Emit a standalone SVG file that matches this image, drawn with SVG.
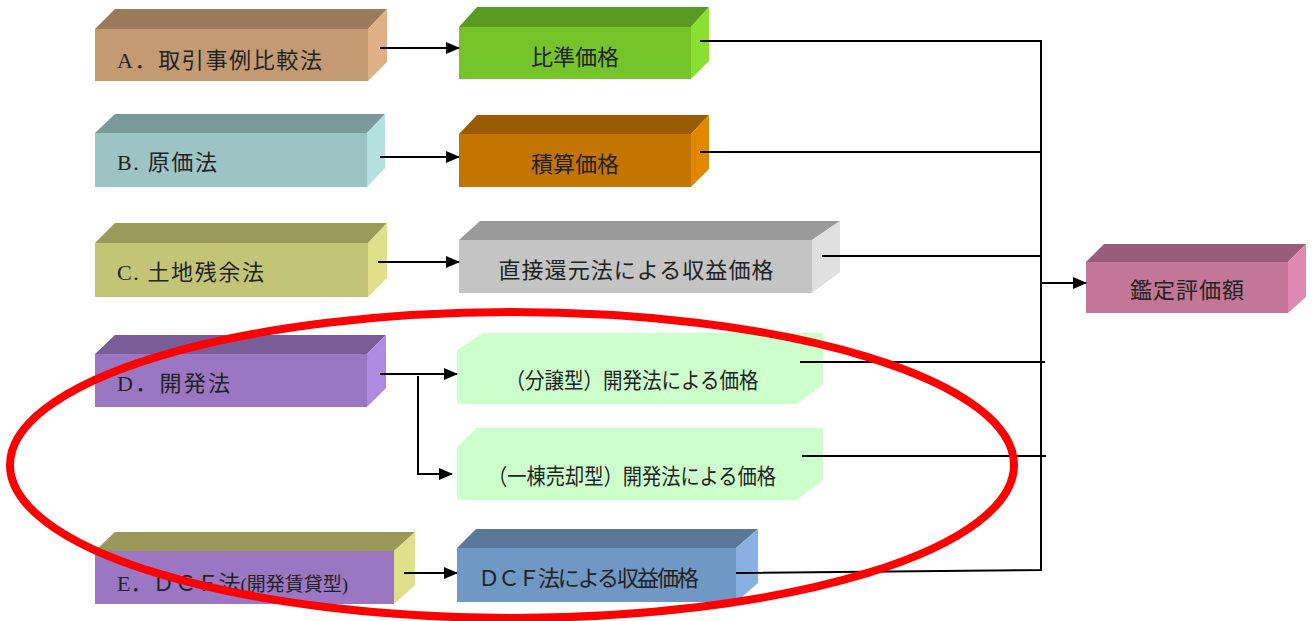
<svg xmlns="http://www.w3.org/2000/svg" width="1316" height="621" viewBox="0 0 1316 621">
<defs>
<style>
text{font-family:"Liberation Serif","Noto Sans CJK JP",serif;fill:#222;font-size:22px}
.c{text-anchor:middle}
.ln{stroke:#000;stroke-width:2;fill:none}
.ar{stroke:#000;stroke-width:2;fill:none;marker-end:url(#ah)}
</style>
<marker id="ah" markerWidth="14" markerHeight="12" refX="13" refY="6" orient="auto" markerUnits="userSpaceOnUse">
<path d="M0,0 L14,6 L0,12 Z" fill="#000"/>
</marker>
</defs>
<rect width="1316" height="621" fill="#fff"/>

<g id="nodeA">
<polygon points="95,29 115,9 387,9 368,29" fill="#9a7a5a"/>
<polygon points="368,29 387,9 387,62 368,81" fill="#e0b084"/>
<rect x="95" y="29" width="273" height="52" fill="#c49a72"/>
<text x="117" y="68" textLength="205">A．取引事例比較法</text>
</g>
<g id="nodeB">
<polygon points="95,133 115,114 385,114 367,133" fill="#7a9a9a"/>
<polygon points="367,133 385,114 385,168 367,187" fill="#b4e0e0"/>
<rect x="95" y="133" width="272" height="54" fill="#9cc4c4"/>
<text x="117" y="170" textLength="100">B. 原価法</text>
</g>
<g id="nodeC">
<polygon points="95,243 115,223 387,223 368,243" fill="#9a9a5a"/>
<polygon points="368,243 387,223 387,278 368,297" fill="#e0e08a"/>
<rect x="95" y="243" width="273" height="54" fill="#c4c476"/>
<text x="117" y="280" textLength="147">C. 土地残余法</text>
</g>
<g id="nodeD">
<polygon points="95,354 115,335 386,335 367,354" fill="#7a5c98"/>
<polygon points="367,354 386,335 386,388 367,407" fill="#b08ae0"/>
<rect x="95" y="354" width="272" height="53" fill="#9b77c3"/>
<text x="117" y="391" textLength="113">D．開発法</text>
</g>
<g id="nodeE">
<polygon points="95,551 115,532 415,532 394,551" fill="#999a5a"/>
<polygon points="394,551 415,532 415,585 394,604" fill="#e0e08a"/>
<rect x="95" y="551" width="299" height="53" fill="#9b77c3"/>
<text x="117" y="591">E．ＤＣＦ法<tspan font-size="19">(開発賃貸型)</tspan></text>
</g>

<g id="nodeHijun">
<polygon points="459,27 477,7 709,7 691,27" fill="#5a9a22"/>
<polygon points="691,27 709,7 709,61 691,79" fill="#8ae030"/>
<rect x="459" y="27" width="232" height="52" fill="#74c42a"/>
<text class="c" x="575" y="65">比準価格</text>
</g>
<g id="nodeSekisan">
<polygon points="459,134 477,115 709,115 691,134" fill="#9a5c00"/>
<polygon points="691,134 709,115 709,169 691,187" fill="#e08800"/>
<rect x="459" y="134" width="232" height="53" fill="#c47400"/>
<text class="c" x="575" y="172">積算価格</text>
</g>
<g id="nodeChokusetsu">
<polygon points="459,240 480,221 840,221 812,240" fill="#9a9a9a"/>
<polygon points="812,240 840,221 840,272 812,293" fill="#e0e0e0"/>
<rect x="459" y="240" width="353" height="53" fill="#c4c4c4"/>
<text class="c" x="636" y="278" textLength="275">直接還元法による収益価格</text>
</g>
<g id="nodeBunjo">
<polygon points="457,350 483,333 823,333 823,385 797,404 457,404" fill="#ccffcc"/>
<text class="c" x="632" y="388" font-size="17" textLength="253" lengthAdjust="spacingAndGlyphs">（分譲型）開発法による価格</text>
</g>
<g id="nodeIttou">
<polygon points="457,447 477,428 823,428 823,480 797,500 457,500" fill="#ccffcc"/>
<text class="c" x="632" y="484" font-size="17" textLength="288" lengthAdjust="spacingAndGlyphs">（一棟売却型）開発法による価格</text>
</g>
<g id="nodeDCF">
<polygon points="457,548 476,529 758,529 736,548" fill="#5a7898"/>
<polygon points="736,548 758,529 758,583 736,602" fill="#88b0e0"/>
<rect x="457" y="548" width="279" height="54" fill="#7098c4"/>
<text x="478" y="586" font-size="20" textLength="221">ＤＣＦ法による収益価格</text>
</g>
<g id="nodeKantei">
<polygon points="1086,262 1104,244 1306,244 1288,262" fill="#9a5c78"/>
<polygon points="1288,262 1306,244 1306,297 1288,313" fill="#e088b4"/>
<rect x="1086" y="262" width="202" height="51" fill="#c47698"/>
<text class="c" x="1187" y="298" textLength="114">鑑定評価額</text>
</g>

<g id="connectors">
<line class="ar" x1="380" y1="48" x2="459" y2="48"/>
<line class="ar" x1="380" y1="157" x2="459" y2="157"/>
<line class="ar" x1="378" y1="262" x2="459" y2="262"/>
<line class="ar" x1="380" y1="374" x2="457" y2="374"/>
<polyline class="ar" points="418,376 418,474 452,474"/>
<line class="ar" x1="404" y1="573" x2="457" y2="573"/>
<polyline class="ln" points="700,41 1041,41 1041,570 736,573"/>
<line class="ln" x1="700" y1="152" x2="1041" y2="152"/>
<line class="ln" x1="822" y1="256" x2="1041" y2="256"/>
<line class="ln" x1="800" y1="362" x2="1045" y2="362"/>
<line class="ln" x1="802" y1="456" x2="1046" y2="456"/>
<line class="ar" x1="1041" y1="283" x2="1086" y2="283"/>
</g>

<ellipse cx="512" cy="465" rx="502" ry="153" fill="none" stroke="#ff0000" stroke-width="8"/>
</svg>
